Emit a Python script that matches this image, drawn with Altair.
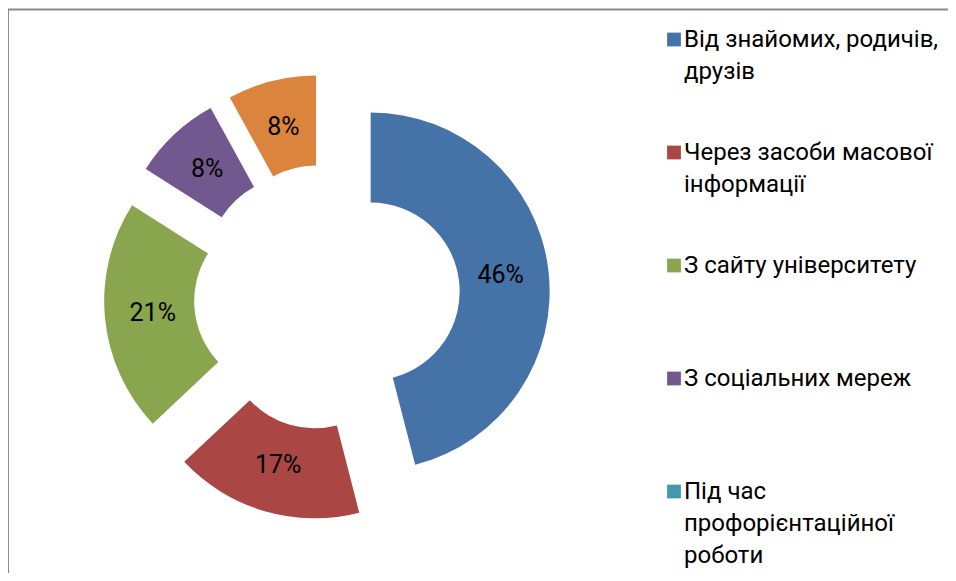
import altair as alt
import pandas as pd

categories = [
    "Від знайомих, родичів, друзів",
    "Через засоби масової інформації",
    "З сайту університету",
    "З соціальних мереж",
    "Під час профорієнтаційної роботи",
    "Інше",
]
values = [46, 17, 21, 8, 0, 8]
colors = ["#4572A7", "#AA4643", "#89A54E", "#71588F", "#4198AF", "#DB843D"]
legend_lines = [
    ["Від знайомих, родичів,", "друзів"],
    ["Через засоби масової", "інформації"],
    ["З сайту університету"],
    ["З соціальних мереж"],
    ["Під час", "профорієнтаційної", "роботи"],
    ["Інше"],
]

df = pd.DataFrame({
    "category": categories,
    "value": values,
    "order": list(range(len(categories))),
    "label": [f"{v}%" if v > 0 else "" for v in values],
})
legend_df = pd.DataFrame({
    "category": categories,
    "rank": list(range(len(categories))),
    "lines": legend_lines,
})

FONT = "Roboto"
W, H = 940, 565
cx, cy, off = 319, 289, 44

color = alt.Color("category:N", scale=alt.Scale(domain=categories, range=colors), legend=None)

base = alt.Chart(df).transform_window(
    cum="sum(value)", frame=[None, 0], sort=[alt.SortField("order")]
).transform_calculate(
    t0="datum.cum - datum.value",
    t1="datum.cum",
    tm="datum.cum - datum.value / 2",
).transform_calculate(
    ex="sin(2 * PI * datum.tm / 100)",
    ey="cos(2 * PI * datum.tm / 100)",
)

xenc = alt.X("ex:Q", scale=alt.Scale(domain=[-1, 1], range=[cx - off, cx + off]), axis=None)
yenc = alt.Y("ey:Q", scale=alt.Scale(domain=[-1, 1], range=[cy + off, cy - off]), axis=None)
tscale = alt.Scale(domain=[0, 100], range=[0, 6.283185307179586])

arcs = base.mark_arc(outerRadius=179, innerRadius=89).encode(
    x=xenc,
    y=yenc,
    theta=alt.Theta("t0:Q", scale=tscale, stack=None),
    theta2="t1:Q",
    color=color,
    order=alt.Order("order:Q"),
)

labels = base.transform_filter("datum.value > 0").mark_text(
    radius=131, font=FONT, fontSize=25, color="black", align="center", baseline="middle"
).encode(
    x=xenc,
    y=yenc,
    theta=alt.Theta("tm:Q", scale=tscale, stack=None),
    text="label:N",
)

lbase = alt.Chart(legend_df).transform_filter("datum.rank < 5")
lyenc = alt.Y("rank:Q", scale=alt.Scale(domain=[0, 4], range=[31.5, 483.5]), axis=None)
squares = lbase.mark_square(size=190, opacity=1).encode(
    x=alt.value(666),
    y=lyenc,
    color=color,
)
ltext = lbase.mark_text(
    font=FONT, fontSize=24, color="black", align="left", baseline="middle", lineHeight=32
).encode(
    x=alt.value(676),
    y=lyenc,
    text="lines",
)

frame = alt.Chart(pd.DataFrame({"k": [0]})).mark_rule(color="#8a8a8a", strokeWidth=2)
frame_top = frame.encode(x=alt.value(0), x2=alt.value(W), y=alt.value(1.5))
frame_left = frame.encode(x=alt.value(0), y=alt.value(1.5), y2=alt.value(H))

pie = alt.layer(arcs, labels)
leg = alt.layer(squares, ltext)

chart = alt.layer(frame_top, frame_left, pie, leg).resolve_scale(
    x="independent", y="independent"
).properties(
    width=W, height=H, padding=0, autosize=alt.AutoSizeParams(type="none")
).configure_view(stroke=None)

chart.save("out.html", embed_options={"renderer": "svg", "actions": False})
